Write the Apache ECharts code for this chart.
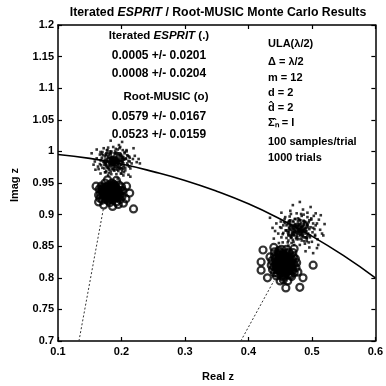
<!DOCTYPE html>
<html><head><meta charset="utf-8">
<script src="https://cdn.jsdelivr.net/npm/echarts@6/dist/echarts.min.js"></script>
<style>html,body{margin:0;padding:0;background:#fff}#c{width:386px;height:386px}</style>
</head><body><div id="c"></div>
<script>
const xTicks = [0.1, 0.2, 0.3, 0.4, 0.5, 0.6];
const xTickLabels = ['0.1', '0.2', '0.3', '0.4', '0.5', '0.6'];
const yTicks = [0.7, 0.75, 0.8, 0.85, 0.9, 0.95, 1, 1.05, 1.1, 1.15, 1.2];
const yTickLabels = ['0.7', '0.75', '0.8', '0.85', '0.9', '0.95', '1', '1.05', '1.1', '1.15', '1.2'];

const titleParts = ['Iterated ', 'ESPRIT', ' / Root-MUSIC Monte Carlo Results'];
const xName = 'Real z';
const yName = 'Imag z';
const espritHeader = ['Iterated ', 'ESPRIT', ' (.)'];
const espritStats = ['0.0005 +/- 0.0201', '0.0008 +/- 0.0204'];
const musicHeader = 'Root-MUSIC (o)';
const musicStats = ['0.0579 +/- 0.0167', '0.0523 +/- 0.0159'];
const setupLines = ['ULA(\u03bb/2)', '\u0394 = \u03bb/2', 'm = 12', 'd = 2', 'd\u0302 = 2', '\u03a3\u0302\u2099 = I', '100 samples/trial', '1000 trials'];

// unit circle
const circleX = [0.1, 0.15, 0.2, 0.25, 0.3, 0.35, 0.4, 0.45, 0.5, 0.55, 0.6];
const circleY = [0.995, 0.989, 0.980, 0.968, 0.954, 0.937, 0.917, 0.893, 0.866, 0.835, 0.800];

// dotted rays toward true roots
const rayLeft = [[0.133, 0.70], [0.172, 0.912]];
const rayRight = [[0.388, 0.70], [0.440, 0.795]];

// Iterated ESPRIT estimates (.)
const espritLeft = [
[0.188,0.984],[0.190,0.985],[0.185,0.986],[0.192,0.982],[0.187,0.980],[0.193,0.987],[0.183,0.983],[0.189,0.989],[0.186,0.978],[0.194,0.979],
[0.191,0.991],[0.182,0.988],[0.195,0.985],[0.184,0.981],[0.188,0.976],[0.190,0.981],[0.181,0.982],[0.192,0.988],[0.185,0.990],[0.196,0.982],
[0.189,0.983],[0.187,0.987],[0.191,0.978],[0.183,0.991],[0.194,0.990],[0.180,0.984],[0.188,0.992],[0.193,0.976],[0.186,0.983],[0.190,0.986],
[0.184,0.985],[0.192,0.984],[0.189,0.979],[0.182,0.978],[0.195,0.980],[0.187,0.990],[0.191,0.987],[0.185,0.981],[0.193,0.985],[0.183,0.987],
[0.189,0.986],[0.186,0.988],[0.191,0.983],[0.184,0.983],[0.193,0.982],[0.187,0.982],[0.190,0.989],[0.185,0.979],[0.194,0.986],[0.182,0.985],
[0.188,0.979],[0.192,0.990],[0.183,0.980],[0.195,0.987],[0.181,0.989],[0.190,0.976],[0.186,0.991],[0.196,0.985],[0.187,0.985],[0.189,0.981],
[0.198,0.986],[0.177,0.985],[0.197,0.976],[0.179,0.992],[0.200,0.979],[0.176,0.978],[0.190,0.996],[0.185,0.972],[0.199,0.993],[0.178,0.974],
[0.202,0.984],[0.174,0.987],[0.194,0.997],[0.181,0.971],[0.201,0.990],[0.175,0.982],[0.196,0.994],[0.180,0.995],[0.197,0.972],[0.184,0.998],
[0.203,0.981],[0.173,0.979],[0.188,0.970],[0.192,0.973],[0.199,0.974],[0.176,0.994],[0.204,0.988],[0.172,0.984],[0.195,0.969],[0.182,1.000],
[0.207,0.989],[0.168,0.986],[0.210,0.978],[0.170,0.974],[0.191,1.004],[0.184,0.964],[0.205,0.999],[0.169,0.996],[0.209,0.994],[0.166,0.980],
[0.200,0.965],[0.177,1.002],[0.213,0.984],[0.163,0.976],[0.206,0.970],[0.174,0.967],[0.212,0.992],[0.167,0.999],[0.216,0.981],[0.161,0.989],
[0.198,1.007],[0.179,0.962],[0.208,1.002],[0.164,0.972],[0.218,0.988],[0.203,0.962],[0.172,1.005],[0.214,0.973],[0.158,0.984],[0.196,1.010],
[0.199,0.979],[0.179,0.990],[0.201,0.993],[0.177,0.976],[0.197,0.997],[0.180,0.973],[0.203,0.975],[0.175,0.995],[0.202,0.972],[0.178,0.998],
[0.204,0.987],[0.174,0.982],[0.193,0.971],[0.184,1.000],[0.200,0.985],[0.178,0.984],[0.198,0.990],[0.181,0.980],[0.195,0.975],[0.183,0.995],
[0.202,0.989],[0.176,0.981],[0.199,0.996],[0.179,0.974],[0.192,0.998],[0.187,0.972],[0.201,0.983],[0.177,0.988],[0.196,0.973],[0.182,0.997],
[0.204,0.978],[0.174,0.992],[0.190,1.000],[0.189,0.970],[0.200,0.973],[0.176,0.997],[0.198,0.994],[0.180,0.977],[0.203,0.991],[0.175,0.978],
[0.221,0.993],[0.156,0.979],[0.224,0.983],[0.214,0.960],[0.161,1.003],[0.194,0.957],[0.201,1.015],[0.183,1.017],[0.227,0.988],[0.153,0.997],
[0.211,0.963],[0.167,0.965],[0.219,1.005],[0.159,0.971],[0.229,0.981],
[0.207,0.988],[0.172,0.983],[0.205,0.997],[0.171,0.994],[0.206,0.974],[0.173,0.973],[0.194,1.003],[0.183,0.968],[0.209,0.981],[0.169,0.990],
[0.201,0.969],[0.178,1.002],[0.210,0.993],[0.168,0.978],[0.197,1.005],[0.180,0.966],[0.208,1.000],[0.170,0.999],[0.204,0.967],[0.175,0.967],
[0.211,0.985],[0.167,0.986],[0.192,0.964],[0.187,1.007],[0.202,1.002],[0.176,0.969],[0.212,0.976],[0.166,0.995],[0.199,0.965],[0.179,1.006],
[0.213,0.990],[0.177,0.985],[0.201,0.987],[0.189,0.997],[0.188,0.973],[0.195,0.981],[0.183,0.990],[0.193,0.994],[0.184,0.976],[0.198,0.984]
];
const espritRight = [
[0.478,0.876],[0.481,0.874],[0.476,0.879],[0.483,0.880],[0.474,0.871],[0.485,0.875],[0.472,0.878],[0.479,0.884],[0.477,0.869],[0.486,0.882],
[0.471,0.870],[0.482,0.868],[0.473,0.883],[0.487,0.872],[0.469,0.875],[0.480,0.872],[0.475,0.874],[0.484,0.877],[0.477,0.881],[0.481,0.885],
[0.470,0.880],[0.488,0.878],[0.476,0.866],[0.483,0.870],[0.478,0.873],[0.473,0.876],[0.482,0.879],[0.480,0.882],[0.475,0.884],[0.485,0.869],
[0.469,0.868],[0.487,0.885],[0.479,0.875],[0.472,0.873],[0.484,0.873],[0.474,0.880],[0.486,0.867],[0.478,0.886],[0.468,0.882],[0.481,0.876],
[0.480,0.878],[0.475,0.881],[0.482,0.872],[0.473,0.873],[0.484,0.880],[0.471,0.877],[0.479,0.870],[0.476,0.872],[0.483,0.883],[0.472,0.868],
[0.486,0.874],[0.470,0.872],[0.478,0.882],[0.481,0.867],[0.474,0.885],[0.485,0.881],[0.477,0.878],[0.480,0.875],[0.487,0.876],[0.469,0.879],
[0.491,0.874],[0.464,0.879],[0.489,0.864],[0.466,0.887],[0.481,0.891],[0.476,0.861],[0.493,0.884],[0.463,0.867],[0.494,0.870],[0.462,0.872],
[0.487,0.890],[0.470,0.860],[0.496,0.877],[0.460,0.883],[0.490,0.888],[0.467,0.863],[0.492,0.862],[0.473,0.893],[0.484,0.859],[0.497,0.867],
[0.459,0.875],[0.478,0.894],[0.495,0.888],[0.465,0.890],[0.488,0.858],
[0.502,0.879],[0.455,0.871],[0.499,0.892],[0.456,0.888],[0.505,0.868],[0.452,0.864],[0.483,0.901],[0.472,0.852],[0.500,0.857],[0.458,0.896],
[0.508,0.886],[0.450,0.880],[0.493,0.903],[0.463,0.851],[0.509,0.861],[0.447,0.870],[0.503,0.898],[0.454,0.856],[0.513,0.876],[0.444,0.886],
[0.486,0.908],[0.496,0.848],[0.466,0.906],[0.516,0.870],[0.506,0.902],[0.460,0.846],[0.511,0.892],[0.442,0.874],[0.481,0.920],
[0.490,0.870],[0.466,0.883],[0.492,0.886],[0.465,0.867],[0.487,0.890],[0.468,0.864],[0.493,0.866],[0.463,0.888],[0.492,0.863],[0.466,0.891],
[0.494,0.880],[0.462,0.875],[0.483,0.862],[0.474,0.893],[0.490,0.878],[0.466,0.876],[0.488,0.883],[0.469,0.871],[0.485,0.866],[0.471,0.888],
[0.492,0.882],[0.464,0.872],[0.489,0.889],[0.467,0.865],[0.482,0.891],[0.475,0.863],[0.491,0.874],[0.465,0.881],[0.486,0.864],[0.470,0.890],
[0.494,0.869],[0.462,0.885],[0.480,0.893],[0.479,0.861],[0.490,0.864],[0.464,0.890],[0.488,0.887],[0.468,0.868],[0.493,0.884],[0.463,0.869],
[0.518,0.867],[0.438,0.879],[0.510,0.852],[0.452,0.903],[0.498,0.912],[0.470,0.915],[0.508,0.847],[0.448,0.855],[0.520,0.885],[0.440,0.862],
[0.490,0.842],[0.514,0.899],[0.458,0.843],[0.502,0.839],[0.434,0.895],
[0.498,0.880],[0.459,0.875],[0.496,0.891],[0.458,0.887],[0.497,0.864],[0.460,0.863],[0.484,0.898],[0.471,0.857],[0.501,0.872],[0.455,0.883],
[0.492,0.858],[0.465,0.897],[0.502,0.886],[0.454,0.869],[0.487,0.900],[0.468,0.855],[0.499,0.894],[0.457,0.893],[0.495,0.856],[0.462,0.856],
[0.504,0.877],[0.452,0.879],[0.481,0.852],[0.476,0.902],[0.493,0.896],[0.463,0.859],[0.505,0.866],[0.451,0.889],[0.489,0.854],[0.467,0.901],
[0.506,0.883],[0.465,0.877],[0.491,0.879],[0.478,0.890],[0.477,0.864],[0.485,0.872],[0.471,0.883],[0.483,0.887],[0.472,0.867],[0.488,0.876]
];

// Root-MUSIC estimates (o)
const musicLeft = [
[0.183,0.935],[0.187,0.937],[0.179,0.933],[0.186,0.930],[0.180,0.940],[0.190,0.935],[0.176,0.936],[0.183,0.942],[0.184,0.928],[0.189,0.940],
[0.177,0.930],[0.188,0.931],[0.178,0.939],[0.192,0.933],[0.174,0.937],[0.185,0.944],[0.181,0.926],[0.193,0.941],[0.173,0.929],[0.191,0.927],
[0.175,0.943],[0.194,0.934],[0.172,0.935],[0.186,0.946],[0.182,0.924],[0.195,0.938],[0.171,0.932],[0.190,0.945],[0.176,0.925],[0.194,0.927],
[0.171,0.943],[0.188,0.948],[0.179,0.922],[0.197,0.931],[0.169,0.939],[0.183,0.938],[0.185,0.933],[0.181,0.936],[0.188,0.936],[0.178,0.934],
[0.199,0.937],[0.167,0.933],[0.196,0.947],[0.168,0.945],[0.198,0.924],[0.170,0.923],[0.185,0.950],[0.182,0.919],[0.201,0.929],[0.165,0.940],
[0.192,0.920],[0.174,0.950],[0.202,0.938],[0.164,0.931],[0.200,0.944],[0.166,0.926],
[0.172,0.915],[0.186,0.913],[0.195,0.916],[0.203,0.918],[0.164,0.920],[0.207,0.925],[0.213,0.934],[0.208,0.945],[0.160,0.945],[0.178,0.955],
[0.192,0.954],[0.219,0.909],
[0.185,0.940],[0.181,0.931],[0.189,0.933],[0.177,0.937],[0.187,0.943],[0.179,0.927],[0.192,0.938],[0.174,0.932],[0.184,0.931],[0.182,0.939],
[0.191,0.941],[0.175,0.929],[0.189,0.927],[0.177,0.943],[0.193,0.930],[0.173,0.940],[0.186,0.923],[0.180,0.947],[0.196,0.935],[0.170,0.936],
[0.183,0.935],[0.188,0.940],[0.178,0.930],[0.190,0.931],[0.176,0.939]
];
const musicRight = [
[0.456,0.821],[0.459,0.825],[0.452,0.824],[0.461,0.818],[0.454,0.816],[0.463,0.823],[0.449,0.820],[0.457,0.829],[0.456,0.813],[0.462,0.828],
[0.450,0.814],[0.464,0.815],[0.448,0.827],[0.466,0.821],[0.446,0.819],[0.459,0.810],[0.453,0.832],[0.467,0.826],[0.445,0.825],[0.465,0.811],
[0.447,0.812],[0.460,0.833],[0.451,0.809],[0.468,0.817],[0.443,0.821],[0.463,0.832],[0.449,0.831],[0.469,0.828],[0.444,0.813],[0.458,0.807],
[0.455,0.835],[0.470,0.812],[0.442,0.830],[0.456,0.825],[0.459,0.818],[0.453,0.820],[0.460,0.822],[0.452,0.817],[0.457,0.819],[0.454,0.823],
[0.472,0.822],[0.440,0.818],[0.471,0.833],[0.441,0.834],[0.472,0.808],[0.441,0.808],[0.461,0.838],[0.452,0.803],[0.475,0.816],[0.437,0.827],
[0.466,0.804],[0.447,0.838],[0.474,0.830],[0.438,0.813],[0.464,0.840],[0.436,0.820],[0.476,0.824],[0.450,0.840],[0.468,0.802],[0.444,0.803],
[0.456,0.801],[0.434,0.833],[0.478,0.809],
[0.423,0.844],[0.420,0.825],[0.420,0.812],[0.486,0.800],[0.481,0.785],[0.459,0.784],[0.430,0.800],[0.440,0.848],[0.472,0.846],[0.502,0.820],
[0.458,0.826],[0.454,0.816],[0.462,0.819],[0.450,0.824],[0.460,0.830],[0.452,0.812],[0.465,0.824],[0.447,0.818],[0.457,0.817],[0.455,0.825],
[0.464,0.828],[0.448,0.814],[0.462,0.812],[0.450,0.830],[0.467,0.816],[0.445,0.827],[0.459,0.808],[0.453,0.834],[0.469,0.822],[0.444,0.819],
[0.456,0.837],[0.458,0.804],[0.454,0.838],[0.466,0.834],[0.446,0.807],[0.464,0.806],[0.448,0.836],[0.461,0.826],[0.451,0.816],[0.463,0.817],
[0.452,0.845],[0.460,0.845],[0.448,0.843],[0.455,0.797],[0.462,0.795],[0.450,0.795],[0.470,0.840],[0.441,0.841]
];

const FONT = '"Liberation Sans", Arial, Helvetica, sans-serif';
const chart = echarts.init(document.getElementById('c'), null, {renderer: 'canvas'});

function tickFmt(ticks, labels) {
  return function (v) {
    for (let i = 0; i < ticks.length; i++) if (Math.abs(ticks[i] - v) < 1e-9) return labels[i];
    return '';
  };
}

const axisLine = {show: true, onZero: false, lineStyle: {color: '#000', width: 1.5}};
const axisTick = {show: true, inside: true, length: 4, lineStyle: {color: '#000', width: 1.2}};
const labelStyle = {color: '#000', fontFamily: FONT, fontWeight: 'bold', fontSize: 11};

const xBase = {type: 'value', min: 0.1, max: 0.6, interval: 0.1, splitLine: {show: false}, axisLine: axisLine, axisTick: axisTick};
const yBase = {type: 'value', min: 0.7, max: 1.2, interval: 0.05, splitLine: {show: false}, axisLine: axisLine, axisTick: axisTick};

const txt = (text, x, y, opts) => Object.assign({
  type: 'text', silent: true,
  style: Object.assign({text: text, x: x, y: y, fill: '#000', font: 'bold 12px ' + FONT, align: 'center', verticalAlign: 'middle'}, opts || {})
});

const richStyles = {
  a: {fontFamily: FONT, fontWeight: 'bold', fontSize: 11.5, color: '#000'},
  b: {fontFamily: FONT, fontWeight: 'bold', fontStyle: 'italic', fontSize: 11.5, color: '#000'},
  t: {fontFamily: FONT, fontWeight: 'bold', fontSize: 12.3, color: '#000'},
  ti: {fontFamily: FONT, fontWeight: 'bold', fontStyle: 'italic', fontSize: 12.3, color: '#000'}
};

const graphics = [
  {type: 'text', silent: true, style: {text: '{t|' + titleParts[0] + '}{ti|' + titleParts[1] + '}{t|' + titleParts[2] + '}', rich: richStyles, x: 218, y: 13, align: 'center', verticalAlign: 'middle'}},
  {type: 'text', silent: true, style: {text: '{a|' + espritHeader[0] + '}{b|' + espritHeader[1] + '}{a|' + espritHeader[2] + '}', rich: richStyles, x: 159, y: 36, align: 'center', verticalAlign: 'middle'}},
  txt(espritStats[0], 159, 56),
  txt(espritStats[1], 159, 74),
  txt(musicHeader, 166, 97, {font: 'bold 11.5px ' + FONT}),
  txt(musicStats[0], 159, 117),
  txt(musicStats[1], 159, 135),
  txt(xName, 218, 377, {font: 'bold 11px ' + FONT}),
  {type: 'text', silent: true, rotation: Math.PI / 2, x: 15, y: 185, style: {text: yName, x: 0, y: 0, fill: '#000', font: 'bold 11px ' + FONT, align: 'center', verticalAlign: 'middle'}}
];
const setupY = [44, 62, 78, 93, 108, 123, 142, 158];
setupLines.forEach((s, i) => graphics.push(txt(s, 268, setupY[i], {align: 'left', font: 'bold 11px ' + FONT})));

const option = {
  backgroundColor: '#fff',
  animation: false,
  grid: {left: 58, right: 8, top: 25, bottom: 45, containLabel: false},
  xAxis: [
    Object.assign({}, xBase, {position: 'bottom', axisLabel: Object.assign({margin: 5, formatter: tickFmt(xTicks, xTickLabels)}, labelStyle)}),
    Object.assign({}, xBase, {position: 'top', axisLabel: {show: false}})
  ],
  yAxis: [
    Object.assign({}, yBase, {position: 'left', axisLabel: Object.assign({margin: 4, formatter: tickFmt(yTicks, yTickLabels)}, labelStyle)}),
    Object.assign({}, yBase, {position: 'right', axisLabel: {show: false}})
  ],
  series: [
    {type: 'line', data: rayLeft, showSymbol: false, symbol: 'none', silent: true, lineStyle: {color: '#333', width: 1, type: [2, 2]}},
    {type: 'line', data: rayRight, showSymbol: false, symbol: 'none', silent: true, lineStyle: {color: '#333', width: 1, type: [2, 2]}},
    {type: 'scatter', data: musicLeft, symbol: 'circle', symbolSize: 7, silent: true, itemStyle: {color: 'rgba(0,0,0,0)', borderColor: '#000', borderWidth: 2.2}},
    {type: 'scatter', data: musicRight, symbol: 'circle', symbolSize: 7, silent: true, itemStyle: {color: 'rgba(0,0,0,0)', borderColor: '#000', borderWidth: 2.2}},
    {type: 'scatter', data: espritLeft, symbol: 'rect', symbolSize: 2.6, silent: true, itemStyle: {color: '#000'}},
    {type: 'scatter', data: espritRight, symbol: 'rect', symbolSize: 2.6, silent: true, itemStyle: {color: '#000'}},
    {type: 'line', data: circleX.map((x, i) => [x, circleY[i]]), smooth: true, showSymbol: false, symbol: 'none', silent: true, lineStyle: {color: '#000', width: 1.6}}
  ],
  graphic: graphics
};
chart.setOption(option);
</script>
</body></html>
